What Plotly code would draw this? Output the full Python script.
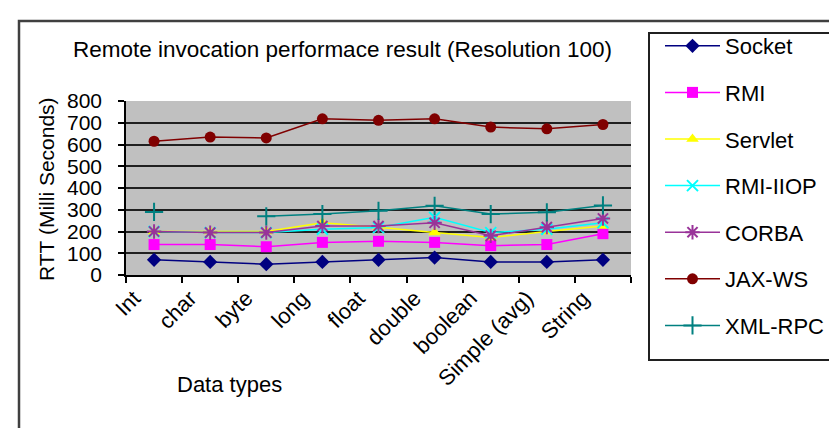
import plotly.graph_objects as go

categories = ["Int", "char", "byte", "long", "float", "double", "boolean", "Simple (avg)", "String"]

socket = [70, 60, 50, 60, 70, 80, 60, 60, 70]
rmi = [140, 140, 130, 150, 155, 150, 135, 140, 190]
servlet = [200, 200, 200, 240, 220, 195, 172, 200, 225]
rmi_iiop = [200, 195, 195, 210, 218, 265, 195, 210, 240]
corba = [200, 195, 195, 225, 225, 240, 180, 220, 260]
jax_ws = [615, 634, 630, 718, 711, 718, 680, 672, 692]
xml_rpc = [290, None, 270, 280, 295, 318, 280, 288, 320]

series_names = ["Socket", "RMI", "Servlet", "RMI-IIOP", "CORBA", "JAX-WS", "XML-RPC"]
series_values = [socket, rmi, servlet, rmi_iiop, corba, jax_ws, xml_rpc]
series_colors = ["#000080", "#FF00FF", "#FFFF00", "#00FFFF", "#993399", "#800000", "#008080"]
series_symbols = ["diamond", "square", "triangle-up", "x-thin", "asterisk", "circle", "cross-thin"]
marker_sizes = [11, 11, 11, 11, 12, 11, 13]

W, H = 837, 428
L, R, T, B = 118, 623, 93, 267
FONT = "Liberation Sans, Arial, sans-serif"

def px(x):
    return (x - L) / (R - L)

def py(y):
    return (B - y) / (B - T)

fig = go.Figure()
for i, (name, vals) in enumerate(zip(series_names, series_values)):
    sym = series_symbols[i]
    line_only = sym in ("x-thin", "cross-thin", "asterisk")
    marker = dict(symbol=sym, size=marker_sizes[i], color=series_colors[i],
                  line=dict(color=series_colors[i], width=2 if line_only else 0))
    fig.add_trace(go.Scatter(
        x=categories, y=vals, name=name, mode="lines+markers",
        line=dict(color=series_colors[i], width=1.5),
        marker=marker, connectgaps=False, legendgroup=name,
    ))

fig.update_layout(
    width=W, height=H,
    margin=dict(l=L, r=W - R, t=T, b=H - B, pad=0, autoexpand=False),
    paper_bgcolor="white", plot_bgcolor="#C0C0C0",
    font=dict(family=FONT, size=21, color="black"),
    showlegend=True,
    legend=dict(x=px(652), y=py(17), xanchor="left", yanchor="top",
                maxheight=400,
                bgcolor="rgba(0,0,0,0)", borderwidth=0,
                font=dict(size=22, family=FONT), tracegroupgap=15,
                traceorder="grouped", itemwidth=55),
    xaxis=dict(type="category", range=[-0.5, 8.5], tickson="boundaries",
               ticks="outside", ticklen=6, tickcolor="black", tickwidth=1.5,
               showline=True, linecolor="black", linewidth=1.5,
               showgrid=False, tickangle=-45, ticklabelshift=-20,
               tickfont=dict(size=22, family=FONT)),
    yaxis=dict(range=[0, 800], dtick=100, ticks="outside", ticklen=6,
               tickcolor="black", tickwidth=1.5, showline=True,
               linecolor="black", linewidth=1.5, showgrid=True,
               gridcolor="#202020", gridwidth=1.5, zeroline=False,
               ticklabelstandoff=12,
               tickfont=dict(size=21, family=FONT)),
    shapes=[
        dict(type="rect", xref="paper", yref="paper", x0=px(11), x1=px(845),
             y0=py(440), y1=py(13), line=dict(color="#404040", width=2.5),
             fillcolor="rgba(0,0,0,0)", layer="below"),
        dict(type="rect", xref="paper", yref="paper", x0=px(641), x1=px(834),
             y0=py(352), y1=py(25), line=dict(color="#202020", width=2),
             fillcolor="white", layer="below"),
    ],
    annotations=[
        dict(text="Remote invocation performace result (Resolution 100)",
             xref="paper", yref="paper", x=px(334), y=py(42),
             xanchor="center", yanchor="middle", showarrow=False,
             font=dict(size=22.5, family=FONT)),
        dict(text="RTT (Milli Seconds)", xref="paper", yref="paper",
             x=px(38), y=py(181), xanchor="center", yanchor="middle",
             textangle=-90, showarrow=False, font=dict(size=21, family=FONT)),
        dict(text="Data types", xref="paper", yref="paper",
             x=px(221), y=py(376), xanchor="center", yanchor="middle",
             showarrow=False, font=dict(size=22, family=FONT)),
    ],
)

fig.write_html("out.html")
